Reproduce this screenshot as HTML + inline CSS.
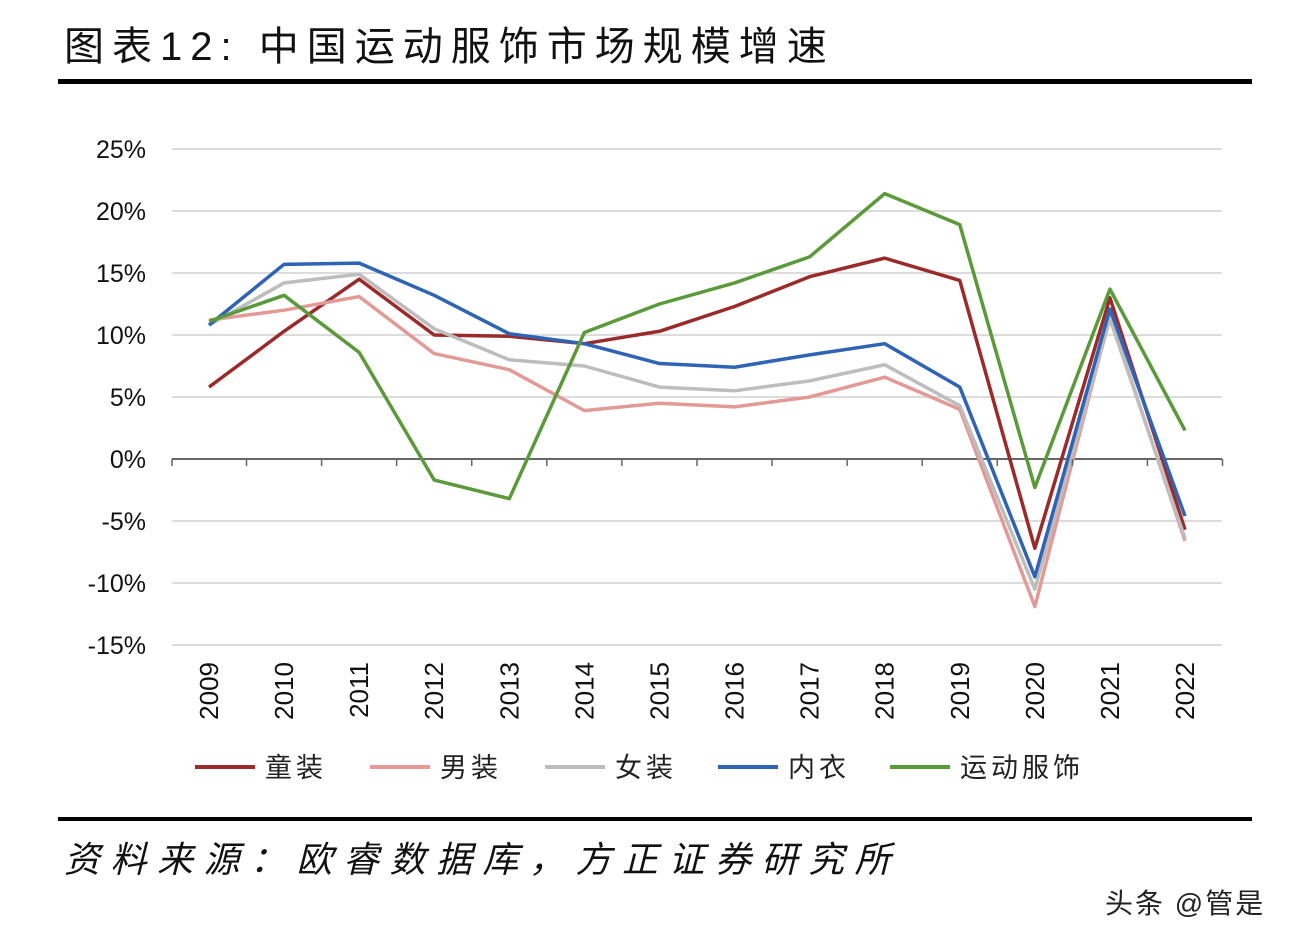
<!DOCTYPE html>
<html><head><meta charset="utf-8"><style>
body{margin:0;background:#fff;width:1306px;height:946px;overflow:hidden;font-family:"Liberation Sans","Noto Sans CJK SC",sans-serif}
</style></head><body>
<svg width="1306" height="946" xmlns="http://www.w3.org/2000/svg">
<text x="64" y="60" font-size="40" letter-spacing="8" font-family="'Liberation Sans','Noto Sans CJK SC',sans-serif" fill="#111">图表12: 中国运动服饰市场规模增速</text>
<rect x="58" y="79" width="1194" height="5" fill="#000"/>
<g id="grid"></g><g id="series"></g><g id="axes"></g>
<g id="legend" font-size="27" fill="#222"></g>
<rect x="58" y="817" width="1194" height="4" fill="#000"/>
<text x="64" y="872" font-size="36" letter-spacing="10.5" font-style="italic" fill="#111">资料来源：欧睿数据库，方正证券研究所</text>
<text x="1105" y="913" font-size="28" letter-spacing="2" fill="#222">头条 @管是</text>
</svg>
<script>
const years=["2009","2010","2011","2012","2013","2014","2015","2016","2017","2018","2019","2020","2021","2022"];
const yTicks=[25,20,15,10,5,0,-5,-10,-15];
const names=["童装","男装","女装","内衣","运动服饰"];
const colors=["#9b2b2b","#e39a96","#bdbdbd","#2f63b6","#5a9a3a"];
const s1=[5.8,10.3,14.5,10.0,9.9,9.3,10.3,12.3,14.7,16.2,14.4,-7.2,13.0,-5.7];
const s2=[11.2,12.0,13.1,8.5,7.2,3.9,4.5,4.2,5.0,6.6,4.0,-11.9,11.5,-6.6];
const s3=[10.8,14.2,14.9,10.5,8.0,7.5,5.8,5.5,6.3,7.6,4.3,-10.5,11.3,-6.4];
const s4=[10.8,15.7,15.8,13.2,10.1,9.3,7.7,7.4,8.4,9.3,5.8,-9.5,12.1,-4.6];
const s5=[11.1,13.2,8.6,-1.7,-3.2,10.2,12.5,14.2,16.3,21.4,18.9,-2.3,13.7,2.3];
const series=[s1,s2,s3,s4,s5];
const NS="http://www.w3.org/2000/svg";
const X=i=>209+i*(1185-209)/13;
const Y=v=>459-v*12.4;
function mk(t,a,p){const e=document.createElementNS(NS,t);for(const k in a)e.setAttribute(k,a[k]);p.appendChild(e);return e;}
const grid=document.getElementById('grid'),axes=document.getElementById('axes'),sg=document.getElementById('series'),lg=document.getElementById('legend');
yTicks.forEach(v=>{
 const l=mk('line',{x1:172,x2:1222,y1:Y(v),y2:Y(v),stroke:v===0?'#666':'#d0d0d0','stroke-width':v===0?2:1.5},grid);
 
 
 const t=mk('text',{x:146,y:Y(v)+9,'text-anchor':'end','font-size':25,fill:'#111'},axes);
 t.textContent=v+'%';
 
 
});
years.forEach((y,i)=>{
 const tk=mk('line',{x1:X(i)+37.5,x2:X(i)+37.5,y1:459,y2:466,stroke:'#666','stroke-width':1.5},axes);
 
 
 const t=mk('text',{x:0,y:0,'text-anchor':'end','font-size':26,fill:'#111',transform:`translate(${X(i)+9},662) rotate(-90)`},axes);
 t.textContent=y;
 
 
});
const tk0=mk('line',{x1:172,x2:172,y1:459,y2:466,stroke:'#666','stroke-width':1.5},axes);


series.forEach((s,k)=>{
 const p=mk('polyline',{points:s.map((v,i)=>X(i)+','+Y(v)).join(' '),fill:'none',stroke:colors[k],'stroke-width':3.5,'stroke-linejoin':'round'},sg);
 
 
});
const lx=[195,370,545,718,890];
names.forEach((n,k)=>{
 const l=mk('line',{x1:lx[k],x2:lx[k]+60,y1:767,y2:767,stroke:colors[k],'stroke-width':4},lg);
 
 
 const t=mk('text',{x:lx[k]+70,y:777,'letter-spacing':4},lg);
 t.textContent=n;
 
 
});
</script>
</body></html>
